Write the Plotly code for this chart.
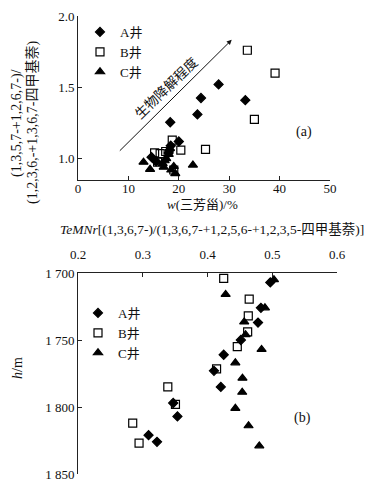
import plotly.graph_objects as go

# ---- Panel (a): w(triaromatic steranes) vs ratio ----
a_A_x = [14.6, 15.5, 18.0, 18.2, 18.4, 20.0, 18.3, 23.7, 24.4, 27.9, 33.2]
a_A_y = [1.01, 0.98, 1.04, 1.06, 1.09, 1.12, 1.255, 1.31, 1.425, 1.52, 1.41]
a_B_x = [15.2, 16.3, 17.4, 15.8, 18.7, 20.4, 25.3, 35.0, 33.6, 39.1, 19.0]
a_B_y = [1.04, 1.035, 1.05, 0.975, 1.13, 1.06, 1.065, 1.275, 1.76, 1.60, 0.92]
a_C_x = [13.0, 14.3, 16.8, 17.0, 17.5, 18.0, 18.2, 18.5, 19.0, 19.3, 22.8, 17.2]
a_C_y = [0.975, 0.925, 0.965, 0.94, 1.0, 1.03, 1.07, 0.92, 0.945, 0.895, 0.955, 0.985]

# ---- Panel (b): TeMNr vs depth ----
b_A_x = [0.497, 0.4825, 0.478, 0.4515, 0.425, 0.410, 0.4206, 0.347, 0.3536, 0.309, 0.322]
b_A_y = [1707, 1726, 1737, 1750, 1761, 1773, 1785, 1797, 1807, 1821, 1826]
b_B_x = [0.425, 0.4644, 0.463, 0.462, 0.446, 0.414, 0.3387, 0.3505, 0.2845, 0.2943]
b_B_y = [1704, 1719.5, 1732, 1744, 1755, 1771.5, 1785, 1798, 1812, 1827]
b_C_x = [0.5026, 0.428, 0.4887, 0.4567, 0.4588, 0.4835, 0.443, 0.454, 0.4536, 0.443, 0.4634, 0.480]
b_C_y = [1705, 1716, 1726, 1736.5, 1746, 1757, 1767, 1778.5, 1789, 1801, 1814, 1829]

series_names = ["A井", "B井", "C井"]
a_xticks = [0, 10, 20, 30, 40, 50]
a_yticks = [1.0, 1.5, 2.0]
a_yticktext = ["1.0", "1.5", "2.0"]
b_xticks = [0.2, 0.3, 0.4, 0.5, 0.6]
b_xticktext = ["0.2", "0.3", "0.4", "0.5", "0.6"]
b_yticks = [1700, 1750, 1800, 1850]
b_yticktext = ["1 700", "1 750", "1 800", "1 850"]

FONT = "Liberation Serif, Times New Roman, Noto Sans CJK SC, serif"
OFF = 8                              # page body margin
W, H = 385 - 2 * OFF, 490 - 2 * OFF  # figure fits the window exactly

symbols = ["diamond", "square-open", "triangle-up"]
sizes = [7, 8, 8]

fig = go.Figure()
a_data = [(a_A_x, a_A_y), (a_B_x, a_B_y), (a_C_x, a_C_y)]
b_data = [(b_A_x, b_A_y), (b_B_x, b_B_y), (b_C_x, b_C_y)]
for i, (xs, ys) in enumerate(a_data):
    fig.add_trace(go.Scatter(x=xs, y=ys, mode="markers", name=series_names[i],
                             marker=dict(symbol=symbols[i], size=sizes[i], color="black",
                                         line=dict(color="black", width=1.2)),
                             xaxis="x", yaxis="y", legend="legend"))
for i, (xs, ys) in enumerate(b_data):
    fig.add_trace(go.Scatter(x=xs, y=ys, mode="markers", name=series_names[i],
                             marker=dict(symbol=symbols[i], size=sizes[i], color="black",
                                         line=dict(color="black", width=1.2)),
                             xaxis="x2", yaxis="y2", legend="legend2"))


def px_x(p):
    return (p - OFF) / W


def px_y(p):
    return 1 - (p - OFF) / H


axcommon = dict(showgrid=False, zeroline=False, showline=True, linecolor="#222",
                linewidth=1, ticks="inside", ticklen=4, tickcolor="#222",
                automargin=False, ticklabeloverflow="allow",
                tickfont=dict(family=FONT, size=13, color="#111"))

fig.update_layout(
    width=W, height=H,
    margin=dict(l=0, r=0, t=0, b=0, autoexpand=False),
    paper_bgcolor="white", plot_bgcolor="white",
    font=dict(family=FONT, size=13, color="#111"),
    xaxis=dict(domain=[px_x(78), px_x(330)], range=[0, 50], tickvals=a_xticks,
               anchor="y", side="bottom", ticklabelstandoff=-4, **axcommon),
    yaxis=dict(domain=[px_y(180), px_y(16)], range=[0.85, 2.0], tickvals=a_yticks,
               ticktext=a_yticktext, anchor="x", **axcommon),
    xaxis2=dict(domain=[px_x(78), px_x(337)], range=[0.2, 0.6], tickvals=b_xticks,
                ticktext=b_xticktext, anchor="y2", side="top", ticklabelstandoff=8,
                **axcommon),
    yaxis2=dict(domain=[px_y(474), px_y(273)], range=[1850, 1700], tickvals=b_yticks,
                ticktext=b_yticktext, anchor="x2", **axcommon),
    legend=dict(x=px_x(80), y=px_y(17), xanchor="left", yanchor="top",
                bgcolor="rgba(0,0,0,0)", font=dict(family=FONT, size=13),
                tracegroupgap=0, itemwidth=30),
    legend2=dict(x=px_x(78), y=px_y(298), xanchor="left", yanchor="top",
                 bgcolor="rgba(0,0,0,0)", font=dict(family=FONT, size=13),
                 tracegroupgap=0, itemwidth=30),
    showlegend=True,
)

annotations = [
    # biodegradation arrow
    dict(x=30.5, y=1.833, ax=8, ay=1.045, xref="x", yref="y", axref="x", ayref="y",
         showarrow=True, arrowhead=2, arrowsize=1, arrowwidth=1, arrowcolor="#111", text=""),
    dict(x=17.4, y=1.50, xref="x", yref="y", text="生物降解程度", showarrow=False,
         xanchor="center", yanchor="middle",
         textangle=-44, font=dict(family="Noto Sans CJK SC", size=13.5, color="#111")),
    dict(x=44.8, y=1.19, xref="x", yref="y", text="(a)", showarrow=False,
         xanchor="center", yanchor="middle", font=dict(family=FONT, size=14)),
    dict(x=0.546, y=1808, xref="x2", yref="y2", text="(b)", showarrow=False,
         xanchor="center", yanchor="middle", font=dict(family=FONT, size=14)),
    # axis titles
    dict(x=px_x(17), y=px_y(123), xref="paper", yref="paper", textangle=-90,
         xanchor="center", yanchor="middle",
         text="(1,3,5,7-+1,2,6,7-)/", showarrow=False, font=dict(family=FONT, size=14)),
    dict(x=px_x(32), y=px_y(123), xref="paper", yref="paper", textangle=-90,
         xanchor="center", yanchor="middle",
         text="(1,2,3,6,-+1,3,6,7-四甲基萘)", showarrow=False, font=dict(family=FONT, size=14)),
    dict(x=px_x(202), y=px_y(205), xref="paper", yref="paper",
         xanchor="center", yanchor="middle",
         text="<i>w</i>(三芳甾)/%", showarrow=False, font=dict(family=FONT, size=13)),
    dict(x=px_x(212), y=px_y(229), xref="paper", yref="paper",
         xanchor="center", yanchor="middle",
         text="<i>TeMNr</i>[(1,3,6,7-)/(1,3,6,7-+1,2,5,6-+1,2,3,5-四甲基萘)]",
         showarrow=False, font=dict(family=FONT, size=13.5)),
    dict(x=px_x(17), y=px_y(368), xref="paper", yref="paper", textangle=-90,
         xanchor="center", yanchor="middle",
         text="<i>h</i>/m", showarrow=False, font=dict(family=FONT, size=14)),
]
fig.update_layout(annotations=annotations)

fig.write_html("out.html")
